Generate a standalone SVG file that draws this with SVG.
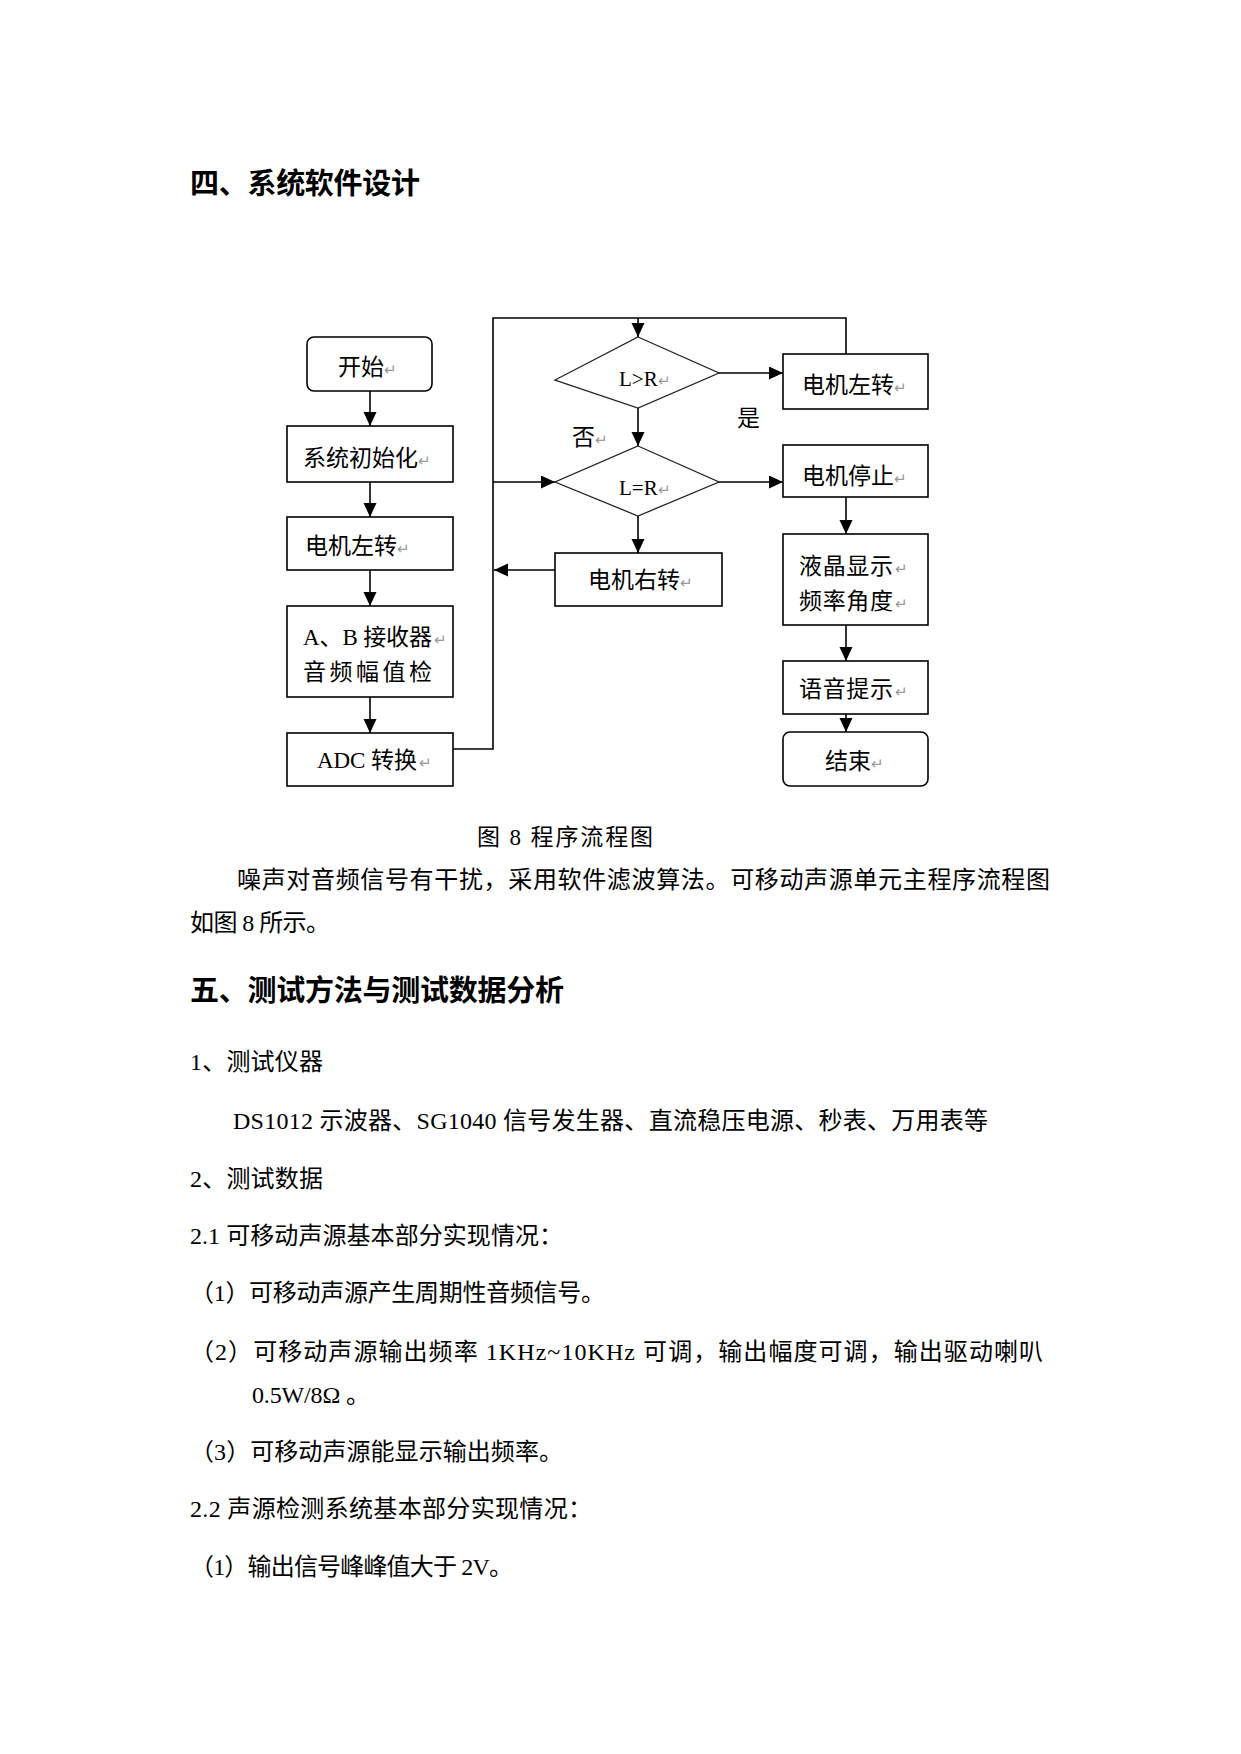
<svg xmlns="http://www.w3.org/2000/svg" width="1241" height="1754" viewBox="0 0 1241 1754">
<style>
.bg{fill:#fff}
.box{fill:#fff;stroke:#000;stroke-width:1.6}
.dia{fill:#fff;stroke:#222;stroke-width:1.3}
.ln{fill:none;stroke:#000;stroke-width:1.6}
.fc{font-family:"Liberation Serif","Noto Sans CJK SC",serif;font-size:23px;fill:#000}
.pm{font-family:"Liberation Sans","Noto Sans CJK SC",sans-serif;font-size:15px;fill:#999}
.h{font-family:"Noto Sans CJK SC",sans-serif;font-size:29px;font-weight:bold;fill:#000}
.t{font-family:"Liberation Serif","Noto Sans CJK SC",serif;font-size:24px;fill:#000}
.cap{font-family:"Liberation Serif","Noto Sans CJK SC",serif;font-size:23px;fill:#000}
</style>
<defs>
<marker id="ah" markerUnits="userSpaceOnUse" markerWidth="15" markerHeight="14" refX="14" refY="6.5" orient="auto">
<path d="M0,0 L14,6.5 L0,13 Z" fill="#000"/>
</marker>
</defs>
<rect class="bg" x="0" y="0" width="1241" height="1754"/>

<text class="h" x="190" y="194" textLength="230" lengthAdjust="spacing">四、系统软件设计</text>

<g id="connectors">
<line class="ln" x1="370" y1="391" x2="370" y2="426" marker-end="url(#ah)"/>
<line class="ln" x1="370" y1="482" x2="370" y2="517" marker-end="url(#ah)"/>
<line class="ln" x1="370" y1="570" x2="370" y2="606" marker-end="url(#ah)"/>
<line class="ln" x1="370" y1="697" x2="370" y2="733" marker-end="url(#ah)"/>
<polyline class="ln" points="453,749 493,749 493,318 846,318 846,354"/>
<line class="ln" x1="638" y1="318" x2="638" y2="337" marker-end="url(#ah)"/>
<line class="ln" x1="638" y1="408" x2="638" y2="446" marker-end="url(#ah)"/>
<line class="ln" x1="719" y1="373" x2="783" y2="373" marker-end="url(#ah)"/>
<line class="ln" x1="493" y1="482" x2="555" y2="482" marker-end="url(#ah)"/>
<line class="ln" x1="719" y1="482" x2="783" y2="482" marker-end="url(#ah)"/>
<line class="ln" x1="638" y1="516" x2="638" y2="553" marker-end="url(#ah)"/>
<line class="ln" x1="555" y1="570" x2="494" y2="570" marker-end="url(#ah)"/>
<line class="ln" x1="846" y1="497" x2="846" y2="534" marker-end="url(#ah)"/>
<line class="ln" x1="846" y1="625" x2="846" y2="661" marker-end="url(#ah)"/>
<line class="ln" x1="846" y1="714" x2="846" y2="732" marker-end="url(#ah)"/>
<text class="fc" x="572" y="445">否<tspan class="pm">↵</tspan></text>
<text class="fc" x="737" y="426">是</text>
</g>

<g id="n-start">
<rect class="box" x="307" y="337" width="125" height="54" rx="7"/>
<text class="fc" x="338" y="375">开始<tspan class="pm">↵</tspan></text>
</g>
<g id="n-init">
<rect class="box" x="287" y="426" width="166" height="56"/>
<text class="fc" x="303" y="466">系统初始化<tspan class="pm">↵</tspan></text>
</g>
<g id="n-left1">
<rect class="box" x="287" y="517" width="166" height="53"/>
<text class="fc" x="305" y="554">电机左转<tspan class="pm">↵</tspan></text>
</g>
<g id="n-ab">
<rect class="box" x="287" y="606" width="166" height="91"/>
<text class="fc" x="303" y="645" textLength="129" lengthAdjust="spacing">A、B 接收器</text>
<text class="pm" x="434" y="645">↵</text>
<text class="fc" x="303" y="680" textLength="129" lengthAdjust="spacing">音 频 幅 值 检</text>
</g>
<g id="n-adc">
<rect class="box" x="287" y="733" width="166" height="53"/>
<text class="fc" x="317" y="768" textLength="100" lengthAdjust="spacing">ADC 转换</text>
<text class="pm" x="419" y="768">↵</text>
</g>
<g id="n-d1">
<polygon class="dia" points="638,337 719,373 638,408 555,380"/>
<text class="fc" x="619" y="386" style="font-size:21px">L&gt;R<tspan class="pm">↵</tspan></text>
</g>
<g id="n-d2">
<polygon class="dia" points="638,446 719,482 638,516 555,482"/>
<text class="fc" x="619" y="495" style="font-size:21px">L=R<tspan class="pm">↵</tspan></text>
</g>
<g id="n-right">
<rect class="box" x="555" y="553" width="167" height="53"/>
<text class="fc" x="588" y="588">电机右转<tspan class="pm">↵</tspan></text>
</g>
<g id="n-left2">
<rect class="box" x="783" y="354" width="145" height="55"/>
<text class="fc" x="802" y="393">电机左转<tspan class="pm">↵</tspan></text>
</g>
<g id="n-stop">
<rect class="box" x="783" y="445" width="145" height="52"/>
<text class="fc" x="802" y="484">电机停止<tspan class="pm">↵</tspan></text>
</g>
<g id="n-lcd">
<rect class="box" x="783" y="534" width="145" height="91"/>
<text class="fc" x="799" y="574" textLength="94" lengthAdjust="spacing">液晶显示</text>
<text class="pm" x="895" y="574">↵</text>
<text class="fc" x="799" y="609" textLength="94" lengthAdjust="spacing">频率角度</text>
<text class="pm" x="895" y="609">↵</text>
</g>
<g id="n-voice">
<rect class="box" x="783" y="661" width="145" height="53"/>
<text class="fc" x="799" y="697" textLength="94" lengthAdjust="spacing">语音提示</text>
<text class="pm" x="895" y="697">↵</text>
</g>
<g id="n-end">
<rect class="box" x="783" y="732" width="145" height="54" rx="7"/>
<text class="fc" x="825" y="769">结束<tspan class="pm">↵</tspan></text>
</g>

<text class="cap" x="477" y="845" textLength="176" lengthAdjust="spacing">图 8  程序流程图</text>
<text class="t" x="237" y="888" textLength="813" lengthAdjust="spacing">噪声对音频信号有干扰，采用软件滤波算法。可移动声源单元主程序流程图</text>
<text class="t" x="190" y="931" textLength="140" lengthAdjust="spacing">如图 8 所示。</text>

<text class="h" x="190" y="1001" textLength="374" lengthAdjust="spacing">五、测试方法与测试数据分析</text>

<text class="t" x="190" y="1070" textLength="133" lengthAdjust="spacing">1、测试仪器</text>
<text class="t" x="233" y="1129" textLength="755" lengthAdjust="spacing">DS1012 示波器、SG1040 信号发生器、直流稳压电源、秒表、万用表等</text>
<text class="t" x="190" y="1187" textLength="133" lengthAdjust="spacing">2、测试数据</text>
<text class="t" x="190" y="1244" textLength="373" lengthAdjust="spacing">2.1 可移动声源基本部分实现情况：</text>
<text class="t" x="190" y="1301" textLength="415" lengthAdjust="spacing">（1）可移动声源产生周期性音频信号。</text>
<text class="t" x="190" y="1360" textLength="853" lengthAdjust="spacing">（2）可移动声源输出频率 1KHz~10KHz 可调，输出幅度可调，输出驱动喇叭</text>
<text class="t" x="252" y="1403" textLength="118" lengthAdjust="spacing">0.5W/8Ω 。</text>
<text class="t" x="190" y="1460" textLength="373" lengthAdjust="spacing">（3）可移动声源能显示输出频率。</text>
<text class="t" x="190" y="1517" textLength="402" lengthAdjust="spacing">2.2 声源检测系统基本部分实现情况：</text>
<text class="t" x="190" y="1575" textLength="323" lengthAdjust="spacing">（1）输出信号峰峰值大于 2V。</text>
</svg>
